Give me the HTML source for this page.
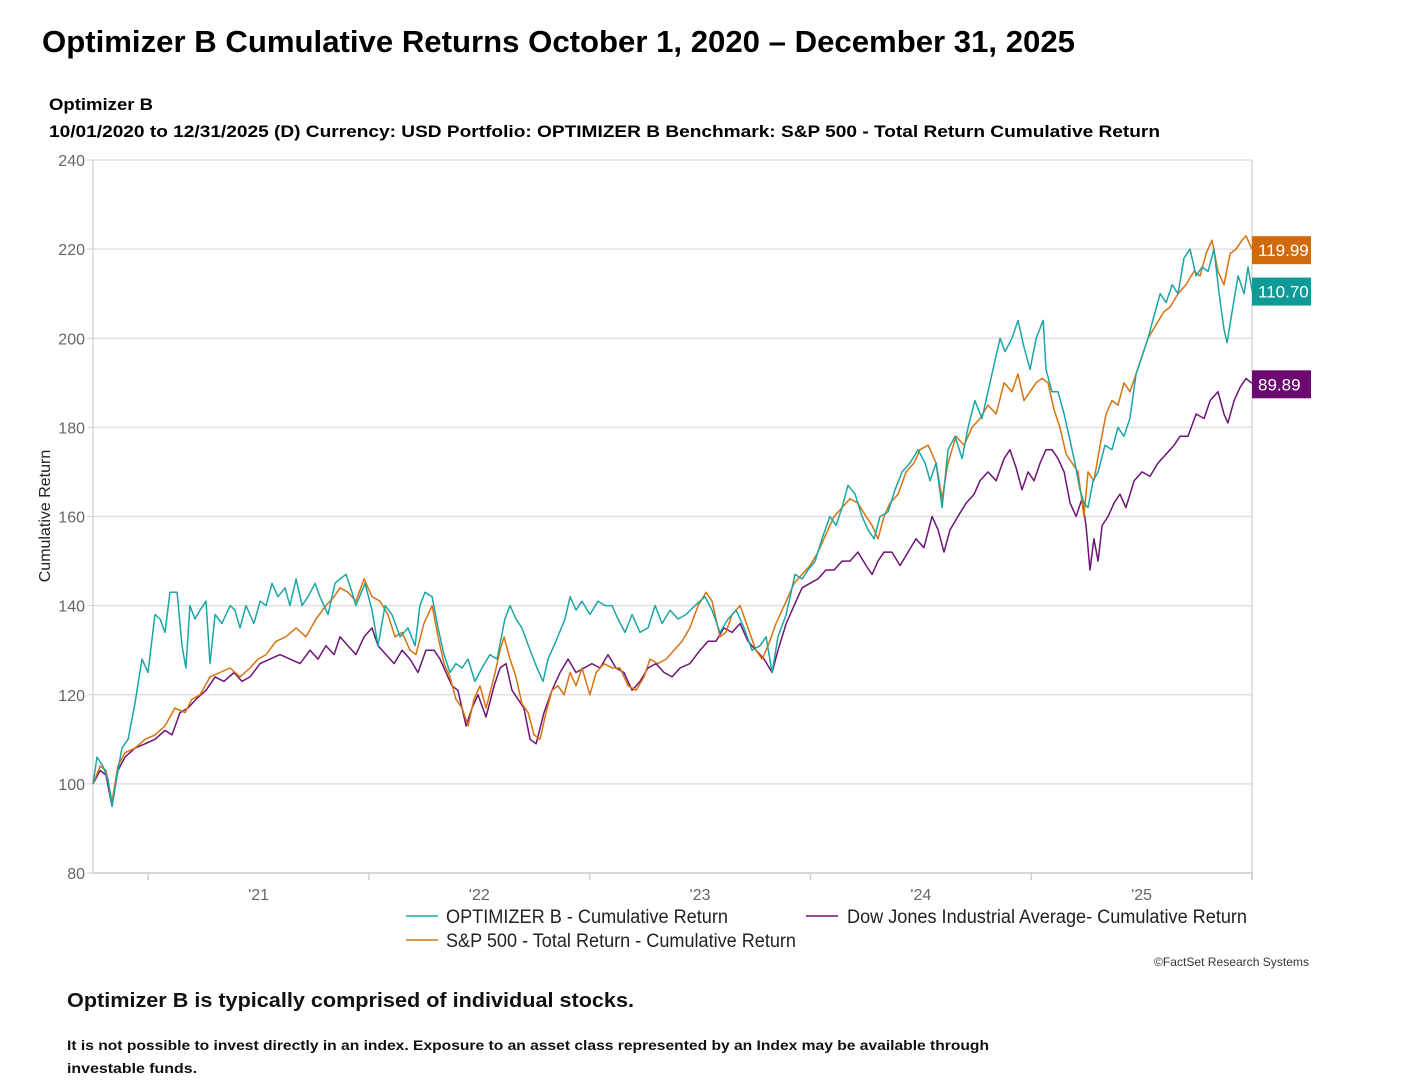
<!DOCTYPE html>
<html><head><meta charset="utf-8"><style>
html,body{margin:0;padding:0;background:#fff;}
svg{display:block;font-family:"Liberation Sans",sans-serif;}
</style></head><body>
<svg id="chart" width="1408" height="1084" viewBox="0 0 1408 1084">
<text x="42" y="52" font-size="31" font-weight="bold" textLength="1033" lengthAdjust="spacingAndGlyphs">Optimizer B Cumulative Returns October 1, 2020 – December 31, 2025</text>
<text x="49" y="110" font-size="17" font-weight="bold" textLength="104" lengthAdjust="spacingAndGlyphs">Optimizer B</text>
<text x="49" y="137" font-size="17" font-weight="bold" textLength="1111" lengthAdjust="spacingAndGlyphs">10/01/2020 to 12/31/2025 (D) Currency:  USD Portfolio:  OPTIMIZER B Benchmark:  S&amp;P 500 - Total Return Cumulative Return</text>
<g id="grid"></g>
<g id="axes"></g>
<text transform="translate(50,516) rotate(-90)" text-anchor="middle" font-size="16" fill="#222">Cumulative Return</text>
<g id="series"></g>
<g id="endlabels"></g>
<g>
<g><line x1="406" y1="916" x2="438" y2="916" stroke="#1aa6a6" stroke-width="1.5"/><text x="446" y="923" font-size="19" fill="#222" textLength="282" lengthAdjust="spacingAndGlyphs">OPTIMIZER B - Cumulative Return</text></g>
<g><line x1="806" y1="916" x2="838" y2="916" stroke="#6e1477" stroke-width="1.5"/><text x="847" y="923" font-size="19" fill="#222" textLength="400" lengthAdjust="spacingAndGlyphs">Dow Jones Industrial Average- Cumulative Return</text></g>
<g><line x1="406" y1="940" x2="438" y2="940" stroke="#d8730f" stroke-width="1.5"/><text x="446" y="947" font-size="19" fill="#222" textLength="350" lengthAdjust="spacingAndGlyphs">S&amp;P 500 - Total Return - Cumulative Return</text></g>
</g>
<text x="1309" y="966" text-anchor="end" font-size="12" fill="#333" textLength="155" lengthAdjust="spacingAndGlyphs">©FactSet Research Systems</text>
<text x="67" y="1007" font-size="20" font-weight="bold" fill="#111" textLength="567" lengthAdjust="spacingAndGlyphs">Optimizer B is typically comprised of individual stocks.</text>
<text x="67" y="1050" font-size="14" font-weight="bold" fill="#111" textLength="922" lengthAdjust="spacingAndGlyphs">It is not possible to invest directly in an index. Exposure to an asset class represented by an Index may be available through</text>
<text x="67" y="1073" font-size="14" font-weight="bold" fill="#111" textLength="130" lengthAdjust="spacingAndGlyphs">investable funds.</text>
</svg>
<script>
const yTicks = [80,100,120,140,160,180,200,220,240];
const xTickYears = [2021,2022,2023,2024,2025,2026];
const xLabels = ["'21","'22","'23","'24","'25"];
const endValues = ["119.99","110.70","89.89"];

const optDates = [2020.750,2020.768,2020.795,2020.818,2020.836,2020.859,2020.881,2020.909,2020.940,2020.972,2020.999,2021.031,2021.054,2021.076,2021.099,2021.131,2021.153,2021.171,2021.189,2021.212,2021.235,2021.262,2021.280,2021.303,2021.334,2021.371,2021.393,2021.416,2021.443,2021.479,2021.507,2021.534,2021.561,2021.588,2021.620,2021.642,2021.670,2021.697,2021.724,2021.756,2021.778,2021.815,2021.846,2021.869,2021.896,2021.923,2021.941,2021.982,2022.014,2022.041,2022.073,2022.104,2022.141,2022.177,2022.209,2022.231,2022.254,2022.286,2022.313,2022.340,2022.367,2022.394,2022.422,2022.449,2022.480,2022.512,2022.548,2022.580,2022.616,2022.639,2022.666,2022.693,2022.730,2022.761,2022.789,2022.811,2022.847,2022.888,2022.911,2022.938,2022.965,2023.001,2023.038,2023.070,2023.101,2023.128,2023.160,2023.192,2023.228,2023.264,2023.296,2023.328,2023.364,2023.400,2023.436,2023.477,2023.522,2023.554,2023.590,2023.627,2023.663,2023.699,2023.735,2023.772,2023.799,2023.826,2023.853,2023.890,2023.930,2023.962,2023.989,2024.021,2024.052,2024.088,2024.116,2024.143,2024.170,2024.202,2024.234,2024.261,2024.288,2024.315,2024.351,2024.383,2024.415,2024.451,2024.487,2024.519,2024.542,2024.569,2024.596,2024.623,2024.655,2024.687,2024.714,2024.745,2024.777,2024.804,2024.836,2024.859,2024.881,2024.913,2024.940,2024.967,2024.995,2025.022,2025.054,2025.067,2025.094,2025.121,2025.149,2025.176,2025.198,2025.221,2025.239,2025.257,2025.280,2025.303,2025.334,2025.366,2025.393,2025.420,2025.447,2025.475,2025.502,2025.529,2025.556,2025.584,2025.611,2025.638,2025.665,2025.692,2025.719,2025.747,2025.774,2025.801,2025.828,2025.851,2025.873,2025.887,2025.910,2025.937,2025.964,2025.982,2026.000];
const optValues = [100,106,104,101,95,102,108,110,118,128,125,138,137,134,143,143,131,126,140,137,139,141,127,138,136,140,139,135,140,136,141,140,145,142,144,140,146,140,142,145,142,138,145,146,147,143,140,145,139,131,140,138,133,135,131,140,143,142,135,129,125,127,126,128,123,126,129,128,137,140,137,135,130,126,123,128,132,137,142,139,141,138,141,140,140,137,134,138,134,135,140,136,139,137,138,140,142,139,134,137,139,135,130,131,133,125,133,138,147,146,148,150,155,160,158,162,167,165,160,157,155,160,161,166,170,172,175,172,168,172,162,175,178,173,180,186,182,188,195,200,197,200,204,198,193,200,204,193,188,188,183,177,172,166,163,162,168,170,176,175,180,178,182,192,196,200,205,210,208,212,210,218,220,214,216,215,220,210,202,199,206,214,210,216,210.7];

const spDates = [2020.750,2020.782,2020.809,2020.836,2020.863,2020.895,2020.940,2020.986,2021.031,2021.076,2021.121,2021.167,2021.198,2021.235,2021.280,2021.325,2021.371,2021.416,2021.461,2021.497,2021.534,2021.579,2021.624,2021.670,2021.715,2021.760,2021.805,2021.842,2021.869,2021.905,2021.941,2021.978,2022.014,2022.050,2022.086,2022.118,2022.150,2022.186,2022.213,2022.249,2022.286,2022.313,2022.340,2022.367,2022.394,2022.422,2022.449,2022.476,2022.503,2022.530,2022.567,2022.594,2022.612,2022.639,2022.666,2022.693,2022.721,2022.748,2022.775,2022.802,2022.829,2022.856,2022.884,2022.911,2022.938,2022.965,2023.001,2023.029,2023.065,2023.101,2023.137,2023.174,2023.210,2023.246,2023.273,2023.309,2023.346,2023.382,2023.418,2023.454,2023.491,2023.527,2023.554,2023.590,2023.617,2023.645,2023.681,2023.717,2023.753,2023.781,2023.808,2023.844,2023.890,2023.926,2023.962,2023.998,2024.034,2024.070,2024.107,2024.143,2024.179,2024.215,2024.252,2024.279,2024.306,2024.333,2024.360,2024.397,2024.433,2024.469,2024.496,2024.533,2024.569,2024.596,2024.623,2024.659,2024.696,2024.732,2024.768,2024.804,2024.841,2024.877,2024.913,2024.940,2024.967,2024.995,2025.022,2025.049,2025.076,2025.103,2025.130,2025.158,2025.185,2025.212,2025.239,2025.257,2025.284,2025.312,2025.339,2025.366,2025.393,2025.420,2025.447,2025.475,2025.502,2025.529,2025.565,2025.602,2025.629,2025.665,2025.701,2025.737,2025.765,2025.792,2025.819,2025.846,2025.873,2025.901,2025.928,2025.955,2025.973,2026.000];
const spValues = [100,104,103,96,104,107,108,110,111,113,117,116,119,120,124,125,126,124,126,128,129,132,133,135,133,137,140,142,144,143,141,146,142,141,138,133,134,130,129,136,140,133,127,124,119,117,113,119,122,117,124,130,133,128,124,118,116,111,110,116,121,122,120,125,122,126,120,125,127,126,126,122,121,124,128,127,128,130,132,135,140,143,141,133,134,138,140,135,130,128,131,136,141,145,147,149,152,156,160,162,164,163,160,158,155,160,163,165,170,172,175,176,172,164,172,178,176,180,182,185,183,190,188,192,186,188,190,191,190,184,180,174,172,170,160,170,168,176,183,186,185,190,188,192,196,200,203,206,207,210,212,215,214,219,222,215,212,219,220,222,223,219.99];

const djDates = [2020.750,2020.782,2020.809,2020.836,2020.863,2020.895,2020.940,2020.986,2021.031,2021.076,2021.108,2021.144,2021.180,2021.217,2021.262,2021.303,2021.343,2021.389,2021.425,2021.461,2021.507,2021.552,2021.597,2021.642,2021.688,2021.733,2021.769,2021.805,2021.842,2021.869,2021.905,2021.941,2021.978,2022.014,2022.041,2022.077,2022.114,2022.150,2022.186,2022.222,2022.258,2022.295,2022.322,2022.349,2022.376,2022.403,2022.440,2022.467,2022.494,2022.530,2022.567,2022.594,2022.621,2022.648,2022.675,2022.702,2022.730,2022.757,2022.793,2022.829,2022.866,2022.902,2022.938,2022.974,2023.010,2023.047,2023.083,2023.119,2023.155,2023.192,2023.228,2023.264,2023.300,2023.337,2023.373,2023.409,2023.454,2023.500,2023.536,2023.572,2023.608,2023.645,2023.681,2023.717,2023.753,2023.790,2023.826,2023.853,2023.890,2023.926,2023.962,2023.998,2024.034,2024.070,2024.107,2024.143,2024.179,2024.215,2024.252,2024.279,2024.306,2024.333,2024.369,2024.406,2024.442,2024.478,2024.514,2024.551,2024.578,2024.605,2024.632,2024.668,2024.705,2024.741,2024.768,2024.804,2024.841,2024.877,2024.904,2024.931,2024.958,2024.986,2025.013,2025.040,2025.067,2025.094,2025.121,2025.149,2025.176,2025.203,2025.230,2025.248,2025.266,2025.284,2025.303,2025.321,2025.348,2025.375,2025.402,2025.429,2025.466,2025.502,2025.538,2025.574,2025.611,2025.647,2025.674,2025.710,2025.747,2025.783,2025.810,2025.846,2025.873,2025.891,2025.919,2025.946,2025.973,2026.000];
const djValues = [100,103,102,95,103,106,108,109,110,112,111,116,117,119,121,124,123,125,123,124,127,128,129,128,127,130,128,131,129,133,131,129,133,135,131,129,127,130,128,125,130,130,128,125,122,121,113,117,120,115,122,126,127,121,119,117,110,109,116,121,125,128,125,126,127,126,129,126,125,121,123,126,127,125,124,126,127,130,132,132,135,134,136,132,130,128,125,130,136,140,144,145,146,148,148,150,150,152,149,147,150,152,152,149,152,155,153,160,157,152,157,160,163,165,168,170,168,173,175,171,166,170,168,172,175,175,173,170,163,160,164,158,148,155,150,158,160,163,165,162,168,170,169,172,174,176,178,178,183,182,186,188,183,181,186,189,191,189.89];

const NS = 'http://www.w3.org/2000/svg';
const L = 93, R = 1252, T = 160, B = 873;
const x0 = 2020.75, x1 = 2026.0, yMin = 80, yMax = 240;
function xScale(d){ return L + (d - x0) / (x1 - x0) * (R - L); }
function yScale(v){ return B - (v - yMin) / (yMax - yMin) * (B - T); }
function mk(tag, attrs, parent){ const e = document.createElementNS(NS, tag); for (const k in attrs) e.setAttribute(k, attrs[k]); parent.appendChild(e); return e; }

const grid = document.getElementById('grid');
const axes = document.getElementById('axes');
yTicks.forEach(v => {
  const y = yScale(v);
  const gl = mk('line', {x1:L, x2:R, y1:y, y2:y, stroke:'#e0e0e0', 'stroke-width':1.5}, grid);
  
  
  const tk = mk('line', {x1:L-6, x2:L, y1:y, y2:y, stroke:'#d0d0d0', 'stroke-width':1}, axes);
  
  
  const t = mk('text', {x:L-8, y:y+6, 'text-anchor':'end', 'font-size':16, fill:'#666'}, axes);
  t.textContent = v;
  
  
});
const yAx = mk('line', {x1:L, x2:L, y1:T, y2:B, stroke:'#d8d8d8', 'stroke-width':1.5}, axes);


const rAx = mk('line', {x1:R, x2:R, y1:T, y2:B+7, stroke:'#d8d8d8', 'stroke-width':1.5}, axes);


const xAx = mk('line', {x1:L, x2:R, y1:B, y2:B, stroke:'#cfcfcf', 'stroke-width':1.5}, axes);


xTickYears.forEach((yr, i) => {
  const x = xScale(yr);
  const tk = mk('line', {x1:x, x2:x, y1:B, y2:B+7, stroke:'#cfcfcf', 'stroke-width':1.5}, axes);
  
  
  if (i < xLabels.length) {
    const t = mk('text', {x:xScale(yr + 0.5), y:B+27, 'text-anchor':'middle', 'font-size':16, fill:'#666'}, axes);
    t.textContent = xLabels[i];
    
    
  }
});

const series = document.getElementById('series');
function drawLine(dates, vals, color, name){
  const d = dates.map((dt, i) => (i ? 'L' : 'M') + xScale(dt).toFixed(1) + ',' + yScale(vals[i]).toFixed(1)).join(' ');
  const p = mk('path', {d:d, fill:'none', stroke:color, 'stroke-width':1.5, 'stroke-linejoin':'round'}, series);
  
  
}
drawLine(djDates, djValues, '#6e1477', 'dow-line');
drawLine(spDates, spValues, '#d8730f', 'sp500-line');
drawLine(optDates, optValues, '#1aa6a6', 'optimizer-line');

const endG = document.getElementById('endlabels');
const endSpecs = [
  {val: spValues[spValues.length-1], color:'#d06a0c', txt:endValues[0], name:'sp500-end-label'},
  {val: optValues[optValues.length-1], color:'#0e9a97', txt:endValues[1], name:'optimizer-end-label'},
  {val: djValues[djValues.length-1], color:'#6a0a6f', txt:endValues[2], name:'dow-end-label'}
];
endSpecs.forEach(s => {
  const yc = yScale(s.val) + 1;
  const r = mk('rect', {x:R, y:yc-14, width:59, height:28, fill:s.color}, endG);
  
  
  const t = mk('text', {x:R+6, y:yc+6, 'font-size':17, fill:'#fff'}, endG);
  t.textContent = s.txt;
  
  
});
</script>
</body></html>
